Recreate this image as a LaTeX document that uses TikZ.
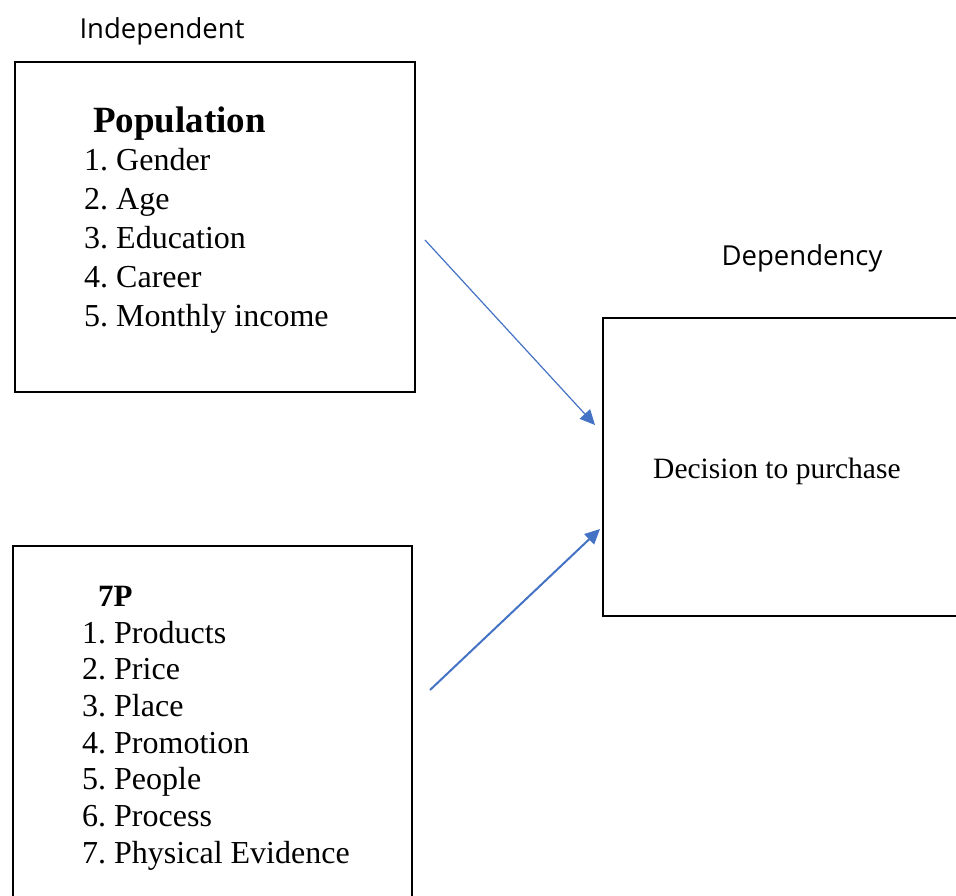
\documentclass[tikz,border=0pt]{standalone}
\usepackage{fontspec}
\setmainfont{Liberation Serif}
\newfontfamily\labelFont{Open Sans}
\usetikzlibrary{arrows.meta,positioning}
\definecolor{arrowBlue}{HTML}{4472C4}
\tikzset{
  varBox/.style={
    draw,
    line width=2.2pt,
    inner sep=0pt,
    outer sep=0pt
  },
  listItem/.style={
    anchor=base west,
    inner sep=0pt,
    font=\fontsize{32}{37}\selectfont
  },
  listHead/.style={
    listItem,
    font=\fontsize{31}{37}\selectfont\bfseries
  },
  sideLabel/.style={
    anchor=base,
    inner sep=0pt,
    font=\labelFont\fontsize{27.5}{33}\selectfont
  },
  linkArrow/.style={
    -{Triangle[length=15pt,width=14pt]},
    draw=arrowBlue
  }
}

\begin{document}
\begin{tikzpicture}[x=1pt,y=-1pt]
    \useasboundingbox (0,0) rectangle (956,895);
    \clip (0,0) rectangle (956,895);

    % boxes
    \node[varBox, minimum width=400pt, minimum height=330pt] (popBox) at (215,227) {};
    \node[varBox, minimum width=399pt, minimum height=389pt] (mixBox) at (212.5,740.5) {};
    \node[varBox, minimum width=372pt, minimum height=298pt] (buyBox) at (789,467) {};

    % side labels
    \node[sideLabel] (indepLabel) at (162,38) {Independent};
    \node[sideLabel] (depLabel) at (802,265) {Dependency};

    % population list
    \node[listHead, font=\fontsize{37}{44}\selectfont\bfseries] (popHead) at (93,132) {Population};
    \foreach \t [count=\i] in {Gender, Age, Education, Career, Monthly income} {
      \node[listItem] (pop\i) at (84,{170+39*(\i-1)}) {\i.\hspace{0.25em}\t};
    }

    % 7P list
    \node[listHead] (mixHead) at (98,606) {7P};
    \foreach \t [count=\i] in {Products, Price, Place, Promotion, People, Process, Physical Evidence} {
      \node[listItem] (mix\i) at (82,{643+36.7*(\i-1)}) {\i.\hspace{0.25em}\t};
    }

    % dependent variable
    \node[listItem, font=\fontsize{29.5}{35}\selectfont] (buyText) at (653,478) {Decision to purchase};

    % arrows
    \coordinate (popOut) at (425,240);
    \coordinate (buyInTop) at (595,425);
    \coordinate (mixOut) at (430,690);
    \coordinate (buyInLow) at (600,529);
    \draw[linkArrow, line width=1.2pt] (popOut) -- (buyInTop);
    \draw[linkArrow, line width=2pt] (mixOut) -- (buyInLow);
\end{tikzpicture}
\end{document}
